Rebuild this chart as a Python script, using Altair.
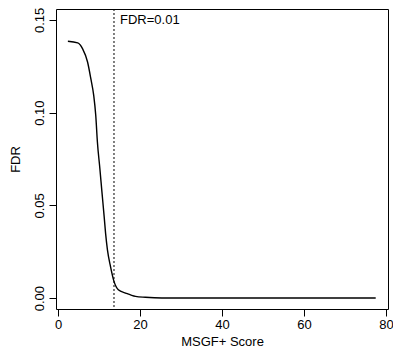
import altair as alt
import pandas as pd

# data
score = [2.4, 4.8, 6.0, 7.2, 8.0, 8.7, 9.2, 9.6, 10.2, 10.7, 11.25, 11.6, 12.05,
         12.8, 13.65, 14.7, 16.5, 18.9, 21.3, 25.3, 77.5]
fdr = [0.1385, 0.1376, 0.1344, 0.1273, 0.1183, 0.1093, 0.0985, 0.0842, 0.0699,
       0.0574, 0.0439, 0.0349, 0.0260, 0.0170, 0.0090, 0.0045, 0.0027, 0.0009,
       0.0004, 0.0, 0.0]
cutoff_score = [13.65]
cutoff_label = ["FDR=0.01"]
cutoff_label_y = [0.15]
x_ticks = [0, 20, 40, 60, 80]
y_ticks = [0.0, 0.05, 0.10, 0.15]

FONT = "Liberation Sans"

curve = pd.DataFrame({"score": score, "fdr": fdr})
cut = pd.DataFrame({"score": cutoff_score, "label": cutoff_label, "y": cutoff_label_y})

xscale = alt.Scale(domain=[-0.5, 80.5], nice=False, zero=False)
yscale = alt.Scale(domain=[-0.0059, 0.1559], nice=False, zero=False)

line = alt.Chart(curve).mark_line(color="black", strokeWidth=1.4, interpolate="monotone").encode(
    x=alt.X("score:Q", scale=xscale,
            axis=alt.Axis(title="MSGF+ Score", values=x_ticks, format="d",
                          titlePadding=4, labelPadding=2)),
    y=alt.Y("fdr:Q", scale=yscale,
            axis=alt.Axis(title="FDR", values=y_ticks, format=".2f",
                          labelAngle=270, labelAlign="center",
                          labelBaseline="bottom", titlePadding=11)),
)

rule = alt.Chart(cut).mark_rule(color="black", strokeWidth=1, strokeDash=[2, 2]).encode(
    x=alt.X("score:Q", scale=xscale)
)

text = alt.Chart(cut).mark_text(
    align="left", baseline="middle", dx=6, font=FONT, fontSize=13, color="black"
).encode(
    x=alt.X("score:Q", scale=xscale),
    y=alt.Y("y:Q", scale=yscale),
    text="label:N",
)

chart = alt.layer(line, rule, text).properties(
    width=332, height=300,
    background="white",
    autosize=alt.AutoSizeParams(type="none"),
    padding={"left": 48, "top": 1, "right": 5, "bottom": 41},
).configure_view(
    stroke="black", strokeWidth=1
).configure_axis(
    grid=False, domain=False, tickColor="black", tickSize=7, tickWidth=1,
    labelFont=FONT, labelFontSize=13, labelColor="black", labelPadding=3,
    titleFont=FONT, titleFontSize=13, titleFontWeight="normal", titleColor="black",
)

chart.save("out.html", embed_options={"renderer": "svg", "actions": False})
